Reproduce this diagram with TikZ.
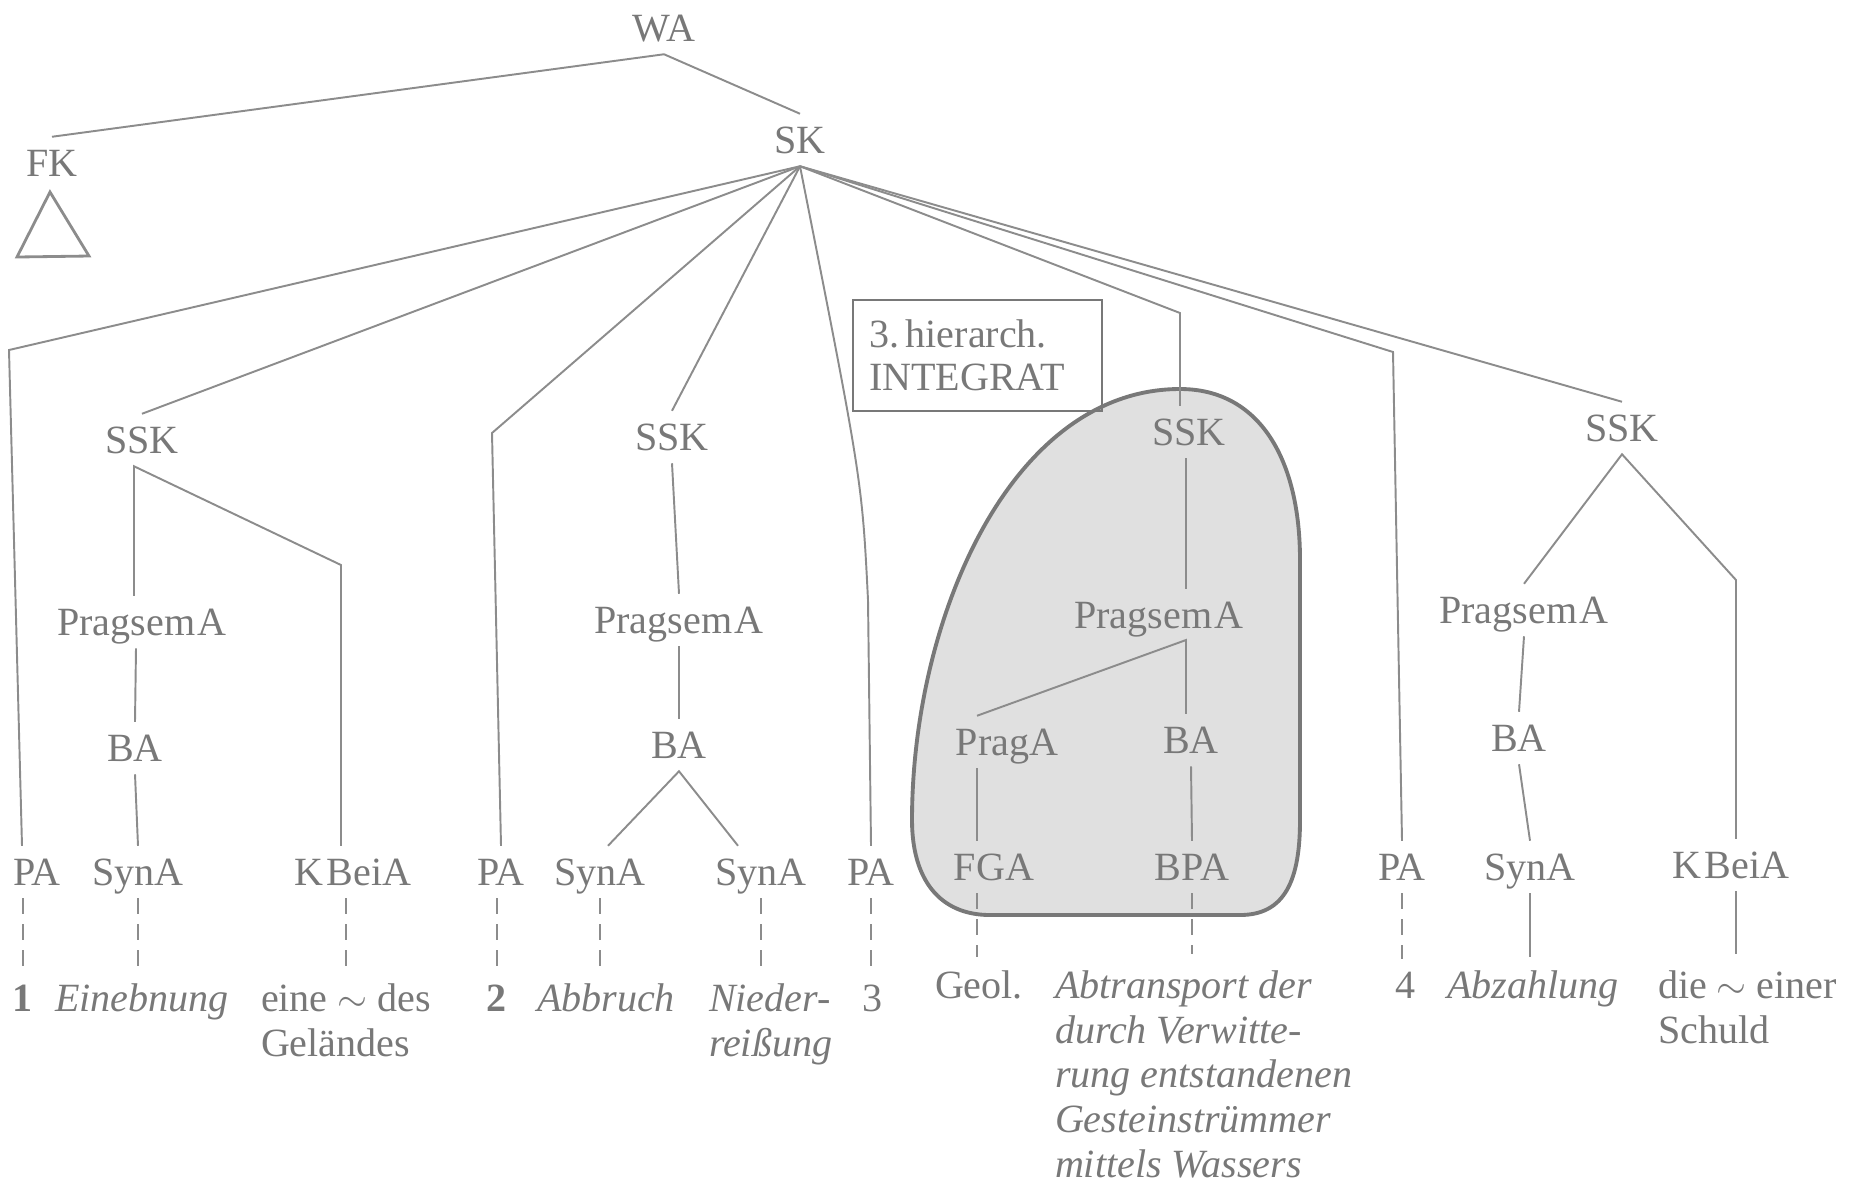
\documentclass[tikz,border=0pt]{standalone}
\usepackage{fontspec}
\setmainfont{Liberation Serif}
\definecolor{ink}{gray}{0.47}
\definecolor{wire}{gray}{0.55}
\definecolor{blobfill}{gray}{0.88}
\newcommand\lblfont{\fontsize{11.4pt}{12.8pt}\selectfont}
\begin{document}
\begin{tikzpicture}[x=0.1mm,y=-0.1mm,
    every node/.style={text=ink,font=\lblfont},
    lab/.style={inner sep=0pt,outer sep=1.3mm,text height=2.65mm,text depth=0pt},
    word/.style={inner sep=0pt,outer xsep=0pt,outer ysep=1.3mm,anchor=base},
    wordl/.style={word,anchor=base west},
    conn/.style={draw=wire,line width=0.55pt},
    dconn/.style={conn,dash pattern=on 1.6mm off 1mm}]
  \useasboundingbox (0,0) rectangle (1855,1196);
  % shaded integrat
  \filldraw[fill=blobfill,draw=ink,line width=1.1pt]
    (1180,389) .. controls (1260,389) and (1300,460) .. (1300,560)
    -- (1300,820) .. controls (1300,880) and (1285,915) .. (1240,915)
    -- (990,915) .. controls (940,915) and (912,880) .. (912,820)
    .. controls (912,620) and (1010,389) .. (1180,389) -- cycle;
  \node[draw=ink,line width=0.8pt,align=left,text width=21.7mm,inner xsep=1.6mm,
    inner ysep=0pt,minimum height=11.1mm,font=\fontsize{11.4pt}{12.2pt}\selectfont]
    (integ) at (977.5,355.5) {3.\,hierarch.\\INTEGRAT};

  \node[lab] (WA) at (664,28) {WA};
  \node[lab] (FK) at (52,163) {FK};
  \node[lab] (SK) at (800,140) {SK};
  \draw[conn] (FK.north) -- (WA.south) -- (SK.north);
  \draw[conn,line width=0.8pt] (50,192) -- (89,256) -- (17,257) -- cycle;

  \node[lab] (ssk1) at (142,440) {SSK};
  \node[lab] (psa1) at (142,622) {Pragsem\kern0.06em A};
  \node[lab] (ba1) at (135,748) {BA};
  \node[lab] (pa1) at (37,872) {PA};
  \node[lab] (syn1) at (138,872) {SynA};
  \node[lab] (kb1) at (353,872) {K\kern0.08em BeiA};
  \node[lab] (pa2) at (501,872) {PA};
  \node[lab] (ssk2) at (672,437) {SSK};
  \node[lab] (psa2) at (679,620) {Pragsem\kern0.06em A};
  \node[lab] (ba2) at (679,745) {BA};
  \node[lab] (syn2) at (600,872) {SynA};
  \node[lab] (syn3) at (761,872) {SynA};
  \node[lab] (pa3) at (871,872) {PA};
  \node[lab] (ssk3) at (1189,432) {SSK};
  \node[lab] (psa3) at (1159,615) {Pragsem\kern0.06em A};
  \node[lab] (praga) at (1007,742) {PragA};
  \node[lab] (ba3) at (1191,740) {BA};
  \node[lab] (fga) at (994,867) {FGA};
  \node[lab] (bpa) at (1192,867) {BPA};
  \node[lab] (pa4) at (1402,867) {PA};
  \node[lab] (ssk4) at (1622,428) {SSK};
  \node[lab] (psa4) at (1524,610) {Pragsem\kern0.06em A};
  \node[lab] (ba4) at (1519,738) {BA};
  \node[lab] (syn4) at (1530,867) {SynA};
  \node[lab] (kb4) at (1731,865) {K\kern0.08em BeiA};

  \coordinate (b1) at (9,350);
  \coordinate (b2) at (492,433);
  \coordinate (b4) at (1180,313);
  \coordinate (b5) at (1393,352);
  \coordinate (k1) at (341,565);
  \coordinate (k4) at (1736,580);
  \coordinate (j3) at (1186,640);

  % branches of SK
  \draw[conn] (SK.south) -- (b1) -- ([xshift=-1.5mm]pa1.north);
  \draw[conn] (SK.south) -- (ssk1.north);
  \draw[conn] (SK.south) -- (b2) -- (pa2.north);
  \draw[conn] (SK.south) -- (ssk2.north);
  \draw[conn] (SK.south) .. controls (862,480) .. (868,600) -- (pa3.north);
  \draw[conn] (SK.south) -- (b4) -- (b4 |- ssk3.north);
  \draw[conn] (SK.south) -- (b5) -- (pa4.north);
  \draw[conn] (SK.south) -- (ssk4.north);

  \draw[conn] ([xshift=-0.8mm]psa1.north) -- ([xshift=-0.8mm]ssk1.south) -- (k1) -- (k1 |- kb1.north);
  \draw[conn] ([xshift=-0.6mm]psa1.south) -- (ba1.north);
  \draw[conn] (ba1.south) -- (syn1.north);
  \draw[conn] (ssk2.south) -- (psa2.north);
  \draw[conn] (psa2.south) -- (ba2.north);
  \draw[conn] ([xshift=0.8mm]syn2.north) -- (ba2.south) -- ([xshift=-2.3mm]syn3.north);
  \draw[conn] (j3 |- ssk3.south) -- (j3 |- psa3.north);
  \draw[conn] ([xshift=-3mm]praga.north) -- (j3) -- (j3 |- ba3.north);
  \draw[conn] ([xshift=-3mm]praga.south) -- ([xshift=-3mm]praga.south |- fga.north);
  \draw[conn] (ba3.south) -- (bpa.north);
  \draw[conn] (psa4.north) -- (ssk4.south) -- (k4) -- (k4 |- kb4.north);
  \draw[conn] (psa4.south) -- (ba4.north);
  \draw[conn] (ba4.south) -- (syn4.north);

  \node[word,font=\lblfont\bfseries] (w1) at (23,1011) {1};
  \node[word,font=\lblfont\itshape] (d1) at (142,1011) {Einebnung};
  \node[wordl] (d1b) at (261,1011) {\begin{tabular}[t]{@{}l@{}}eine $\sim$ des\\Geländes\end{tabular}};
  \node[word,font=\lblfont\bfseries] (w2) at (497,1011) {2};
  \node[word,font=\lblfont\itshape] (d2) at (606,1011) {Abbruch};
  \node[wordl,font=\lblfont\itshape] (d3) at (709,1011) {\begin{tabular}[t]{@{}l@{}}Nieder-\\reißung\end{tabular}};
  \node[word] (w3) at (872,1011) {3};
  \node[word] (d4) at (979,998) {Geol.};
  \node[wordl,font=\lblfont\itshape] (d5) at (1055,998) {\begin{tabular}[t]{@{}l@{}}Abtransport der\\durch Verwitte-\\rung entstandenen\\Gesteinstrümmer\\mittels Wassers\end{tabular}};
  \node[word] (w4) at (1405,998) {4};
  \node[word,font=\lblfont\itshape] (d6) at (1533,998) {Abzahlung};
  \node[wordl] (d7) at (1658,998) {\begin{tabular}[t]{@{}l@{}}die $\sim$ einer\\Schuld\end{tabular}};

  % links to the examples
  \draw[dconn] (w1.north |- pa1.south) -- (w1.north);
  \draw[dconn] (syn1.south) -- (syn1.south |- d1.north);
  \draw[dconn] (d1b.north |- kb1.south) -- (d1b.north);
  \draw[dconn] (w2.north |- pa2.south) -- (w2.north);
  \draw[dconn] (syn2.south) -- (syn2.south |- d2.north);
  \draw[dconn] (syn3.south) -- (syn3.south |- d3.north);
  \draw[dconn] (pa3.south) -- (pa3.south |- w3.north);
  \draw[dconn] ([xshift=-3mm]praga.south |- fga.south) -- ([xshift=-3mm]praga.south |- d4.north);
  \draw[dconn] (bpa.south) -- (bpa.south |- d5.north);
  \draw[dconn] (pa4.south) -- (pa4.south |- w4.north);
  \draw[conn] (syn4.south) -- (syn4.south |- d6.north);
  \draw[conn] (k4 |- kb4.south) -- (k4 |- d7.north);
\end{tikzpicture}
\end{document}
